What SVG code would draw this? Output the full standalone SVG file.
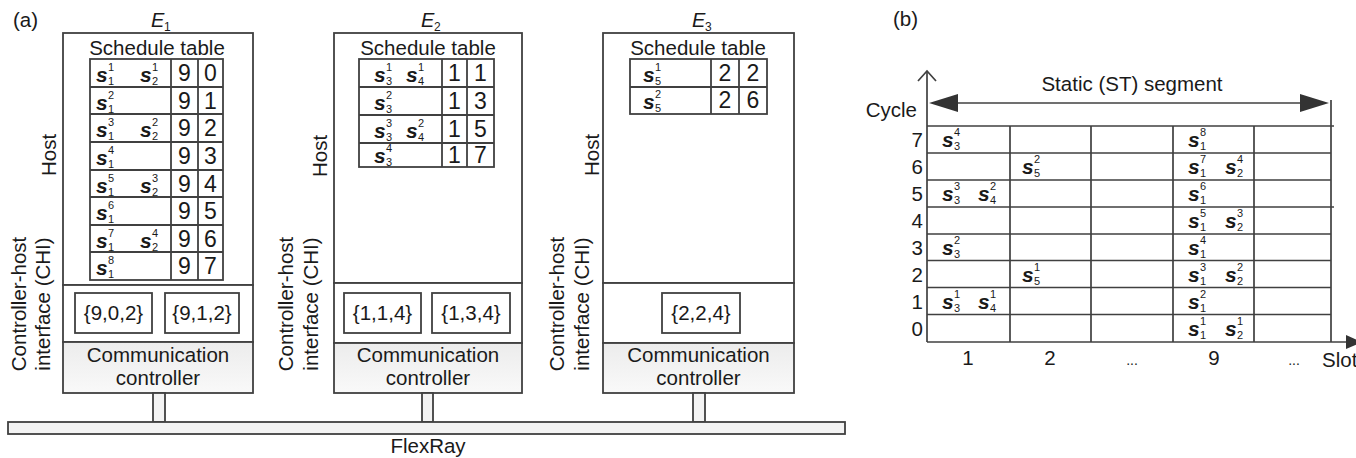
<svg xmlns="http://www.w3.org/2000/svg" width="1356" height="458" viewBox="0 0 1356 458">
<style>
text{font-family:"Liberation Sans",Arial,sans-serif;fill:#1a1a1a}
.t{font-size:20.5px}
.tm{font-size:20.5px;text-anchor:middle}
.d{font-size:23px;text-anchor:middle}
.s{font-size:21px;font-style:italic;font-weight:bold}
.i{font-size:11px}
.ln{fill:none;stroke:#404040;stroke-width:1.8}
.box{fill:#fff;stroke:#404040;stroke-width:1.8}
.cc{fill:url(#ccg);stroke:#404040;stroke-width:1.8}
.bar{fill:#f3f3f3;stroke:#404040;stroke-width:1.8}
.g{fill:none;stroke:#404040;stroke-width:1.7}
.E{font-size:20px;font-style:italic}
.Es{font-size:12px}
</style>
<defs>
<linearGradient id="ccg" x1="0" y1="0" x2="0" y2="1">
<stop offset="0" stop-color="#ececec"/>
<stop offset="1" stop-color="#f9f9f9"/>
</linearGradient>
</defs>
<rect width="1356" height="458" fill="#fff"/>

<text class="t" x="13" y="27">(a)</text>
<text class="t" x="893" y="26">(b)</text>

<!-- E1 -->
<g id="E1">
<text class="E" x="151" y="27">E</text><text class="Es" x="164" y="31">1</text>
<rect class="box" x="63" y="33" width="190" height="252"/>
<rect class="box" x="63" y="285" width="190" height="57"/>
<rect class="cc" x="63" y="342" width="190" height="51"/>
<text class="tm" x="157" y="55">Schedule table</text>
<rect class="ln" x="90" y="59" width="133" height="221"/>
<path class="ln" d="M171 59V280M198 59V280M90 87H223M90 114H223M90 142H223M90 170H223M90 197H223M90 225H223M90 252H223"/>
<g>
<text class="s" x="96" y="82">s</text><text class="i" x="108" y="71">1</text><text class="i" x="108" y="85">1</text>
<text class="s" x="140" y="82">s</text><text class="i" x="152" y="71">1</text><text class="i" x="152" y="85">2</text>
<text class="d" x="184.5" y="81">9</text><text class="d" x="210.5" y="81">0</text>
<text class="s" x="96" y="110">s</text><text class="i" x="108" y="99">2</text><text class="i" x="108" y="113">1</text>
<text class="d" x="184.5" y="109">9</text><text class="d" x="210.5" y="109">1</text>
<text class="s" x="96" y="137">s</text><text class="i" x="108" y="126">3</text><text class="i" x="108" y="140">1</text>
<text class="s" x="140" y="137">s</text><text class="i" x="152" y="126">2</text><text class="i" x="152" y="140">2</text>
<text class="d" x="184.5" y="136">9</text><text class="d" x="210.5" y="136">2</text>
<text class="s" x="96" y="165">s</text><text class="i" x="108" y="154">4</text><text class="i" x="108" y="168">1</text>
<text class="d" x="184.5" y="164">9</text><text class="d" x="210.5" y="164">3</text>
<text class="s" x="96" y="193">s</text><text class="i" x="108" y="182">5</text><text class="i" x="108" y="196">1</text>
<text class="s" x="140" y="193">s</text><text class="i" x="152" y="182">3</text><text class="i" x="152" y="196">2</text>
<text class="d" x="184.5" y="192">9</text><text class="d" x="210.5" y="192">4</text>
<text class="s" x="96" y="220">s</text><text class="i" x="108" y="209">6</text><text class="i" x="108" y="223">1</text>
<text class="d" x="184.5" y="219">9</text><text class="d" x="210.5" y="219">5</text>
<text class="s" x="96" y="248">s</text><text class="i" x="108" y="237">7</text><text class="i" x="108" y="251">1</text>
<text class="s" x="140" y="248">s</text><text class="i" x="152" y="237">4</text><text class="i" x="152" y="251">2</text>
<text class="d" x="184.5" y="247">9</text><text class="d" x="210.5" y="247">6</text>
<text class="s" x="96" y="275">s</text><text class="i" x="108" y="264">8</text><text class="i" x="108" y="278">1</text>
<text class="d" x="184.5" y="274">9</text><text class="d" x="210.5" y="274">7</text>
</g>
<rect class="box" x="75" y="293" width="77" height="40"/>
<rect class="box" x="165" y="293" width="74" height="40"/>
<text class="tm" x="113.5" y="320">{9,0,2}</text>
<text class="tm" x="202" y="320">{9,1,2}</text>
<text class="tm" x="158" y="362">Communication</text>
<text class="tm" x="158" y="385">controller</text>
<text class="tm" transform="translate(56 155) rotate(-90)">Host</text>
<text class="tm" transform="translate(26 304) rotate(-90)">Controller-host</text>
<text class="tm" transform="translate(50 304) rotate(-90)">interface (CHI)</text>
</g>

<!-- E2 -->
<g id="E2">
<text class="E" x="421" y="27">E</text><text class="Es" x="434" y="31">2</text>
<rect class="box" x="334" y="33" width="188" height="250"/>
<rect class="box" x="334" y="283" width="188" height="60"/>
<rect class="cc" x="334" y="343" width="188" height="50"/>
<text class="tm" x="428" y="55">Schedule table</text>
<rect class="ln" x="359" y="59" width="135" height="108"/>
<path class="ln" d="M442 59V167M467 59V167M359 87H494M359 115H494M359 143H494"/>
<g>
<text class="s" x="374" y="82">s</text><text class="i" x="386" y="71">1</text><text class="i" x="386" y="85">3</text>
<text class="s" x="406" y="82">s</text><text class="i" x="418" y="71">1</text><text class="i" x="418" y="85">4</text>
<text class="d" x="454.5" y="81">1</text><text class="d" x="480.5" y="81">1</text>
<text class="s" x="374" y="110">s</text><text class="i" x="386" y="99">2</text><text class="i" x="386" y="113">3</text>
<text class="d" x="454.5" y="109">1</text><text class="d" x="480.5" y="109">3</text>
<text class="s" x="374" y="138">s</text><text class="i" x="386" y="127">3</text><text class="i" x="386" y="141">3</text>
<text class="s" x="406" y="138">s</text><text class="i" x="418" y="127">2</text><text class="i" x="418" y="141">4</text>
<text class="d" x="454.5" y="137">1</text><text class="d" x="480.5" y="137">5</text>
<text class="s" x="374" y="163">s</text><text class="i" x="386" y="152">4</text><text class="i" x="386" y="166">3</text>
<text class="d" x="454.5" y="163">1</text><text class="d" x="480.5" y="163">7</text>
</g>
<rect class="box" x="344" y="293" width="77" height="40"/>
<rect class="box" x="432" y="293" width="78" height="40"/>
<text class="tm" x="382.5" y="320">{1,1,4}</text>
<text class="tm" x="471" y="320">{1,3,4}</text>
<text class="tm" x="428" y="362">Communication</text>
<text class="tm" x="428" y="385">controller</text>
<text class="tm" transform="translate(327 156) rotate(-90)">Host</text>
<text class="tm" transform="translate(293 304) rotate(-90)">Controller-host</text>
<text class="tm" transform="translate(318 304) rotate(-90)">interface (CHI)</text>
</g>

<!-- E3 -->
<g id="E3">
<text class="E" x="692" y="27">E</text><text class="Es" x="705" y="31">3</text>
<rect class="box" x="603" y="33" width="191" height="250"/>
<rect class="box" x="603" y="283" width="191" height="60"/>
<rect class="cc" x="603" y="343" width="191" height="50"/>
<text class="tm" x="698" y="55">Schedule table</text>
<rect class="ln" x="630" y="59" width="137" height="55"/>
<path class="ln" d="M711 59V114M739 59V114M630 87H767"/>
<g>
<text class="s" x="643" y="82">s</text><text class="i" x="655" y="71">1</text><text class="i" x="655" y="85">5</text>
<text class="d" x="725" y="81">2</text><text class="d" x="753" y="81">2</text>
<text class="s" x="643" y="109">s</text><text class="i" x="655" y="98">2</text><text class="i" x="655" y="112">5</text>
<text class="d" x="725" y="108">2</text><text class="d" x="753" y="108">6</text>
</g>
<rect class="box" x="662" y="293" width="78" height="40"/>
<text class="tm" x="701" y="320">{2,2,4}</text>
<text class="tm" x="698.5" y="362">Communication</text>
<text class="tm" x="698.5" y="385">controller</text>
<text class="tm" transform="translate(599 155) rotate(-90)">Host</text>
<text class="tm" transform="translate(564 304) rotate(-90)">Controller-host</text>
<text class="tm" transform="translate(589 304) rotate(-90)">interface (CHI)</text>
</g>

<!-- connectors -->
<g id="connectors">
<rect class="bar" x="153" y="393" width="12" height="29"/>
<rect class="bar" x="422" y="393" width="11" height="29"/>
<rect class="bar" x="693" y="393" width="12" height="29"/>
</g>

<g id="FlexRay">
<rect class="bar" x="8" y="422" width="837" height="12"/>
<text class="tm" x="428" y="453">FlexRay</text>
</g>

<!-- (b) -->
<g id="chart-b">
<path class="g" d="M927 342V71"/>
<polyline class="g" points="918,81 927,71 936,81"/>
<path class="g" d="M927 342H1348"/>
<polygon points="1346,335 1362,342 1346,349" fill="#333"/>
<path class="g" d="M950 103H1308"/>
<polygon points="929,103 958,94 958,112" fill="#333"/>
<polygon points="1329,103 1300,94 1300,112" fill="#333"/>
<path class="g" d="M1331 100V342"/>
<path class="g" d="M927 126H1334M927 153H1331M927 180H1331M927 207H1334M927 234H1331M927 260.5H1331M927 287.5H1331M927 314.5H1331"/>
<path class="g" d="M1010 126V342M1091 126V342M1173 126V342M1254 126V342"/>
<text class="tm" x="1132" y="91">Static (ST) segment</text>
<text class="t" x="917" y="117" text-anchor="end">Cycle</text>
<g text-anchor="end">
<text class="t" x="923" y="147" text-anchor="end">7</text>
<text class="t" x="923" y="174" text-anchor="end">6</text>
<text class="t" x="923" y="201" text-anchor="end">5</text>
<text class="t" x="923" y="228" text-anchor="end">4</text>
<text class="t" x="923" y="255" text-anchor="end">3</text>
<text class="t" x="923" y="281.5" text-anchor="end">2</text>
<text class="t" x="923" y="308.5" text-anchor="end">1</text>
<text class="t" x="923" y="335.5" text-anchor="end">0</text>
</g>
<text class="tm" x="968" y="365">1</text>
<text class="tm" x="1050" y="365">2</text>
<text class="tm" x="1132" y="365" style="font-size:14px">...</text>
<text class="tm" x="1214" y="365">9</text>
<text class="tm" x="1294" y="365" style="font-size:14px">...</text>
<text class="t" x="1322" y="367">Slot</text>
<g>
<!-- row 7 -->
<text class="s" x="942" y="147">s</text><text class="i" x="954" y="136">4</text><text class="i" x="954" y="150">3</text>
<text class="s" x="1188" y="147">s</text><text class="i" x="1200" y="136">8</text><text class="i" x="1200" y="150">1</text>
<!-- row 6 -->
<text class="s" x="1022" y="174">s</text><text class="i" x="1034" y="163">2</text><text class="i" x="1034" y="177">5</text>
<text class="s" x="1188" y="174">s</text><text class="i" x="1200" y="163">7</text><text class="i" x="1200" y="177">1</text>
<text class="s" x="1225" y="174">s</text><text class="i" x="1237" y="163">4</text><text class="i" x="1237" y="177">2</text>
<!-- row 5 -->
<text class="s" x="942" y="201">s</text><text class="i" x="954" y="190">3</text><text class="i" x="954" y="204">3</text>
<text class="s" x="978" y="201">s</text><text class="i" x="990" y="190">2</text><text class="i" x="990" y="204">4</text>
<text class="s" x="1188" y="201">s</text><text class="i" x="1200" y="190">6</text><text class="i" x="1200" y="204">1</text>
<!-- row 4 -->
<text class="s" x="1188" y="228">s</text><text class="i" x="1200" y="217">5</text><text class="i" x="1200" y="231">1</text>
<text class="s" x="1225" y="228">s</text><text class="i" x="1237" y="217">3</text><text class="i" x="1237" y="231">2</text>
<!-- row 3 -->
<text class="s" x="942" y="255">s</text><text class="i" x="954" y="244">2</text><text class="i" x="954" y="258">3</text>
<text class="s" x="1188" y="255">s</text><text class="i" x="1200" y="244">4</text><text class="i" x="1200" y="258">1</text>
<!-- row 2 -->
<text class="s" x="1022" y="281.5">s</text><text class="i" x="1034" y="270.5">1</text><text class="i" x="1034" y="284.5">5</text>
<text class="s" x="1188" y="281.5">s</text><text class="i" x="1200" y="270.5">3</text><text class="i" x="1200" y="284.5">1</text>
<text class="s" x="1225" y="281.5">s</text><text class="i" x="1237" y="270.5">2</text><text class="i" x="1237" y="284.5">2</text>
<!-- row 1 -->
<text class="s" x="942" y="308.5">s</text><text class="i" x="954" y="297.5">1</text><text class="i" x="954" y="311.5">3</text>
<text class="s" x="978" y="308.5">s</text><text class="i" x="990" y="297.5">1</text><text class="i" x="990" y="311.5">4</text>
<text class="s" x="1188" y="308.5">s</text><text class="i" x="1200" y="297.5">2</text><text class="i" x="1200" y="311.5">1</text>
<!-- row 0 -->
<text class="s" x="1188" y="335.5">s</text><text class="i" x="1200" y="324.5">1</text><text class="i" x="1200" y="338.5">1</text>
<text class="s" x="1225" y="335.5">s</text><text class="i" x="1237" y="324.5">1</text><text class="i" x="1237" y="338.5">2</text>
</g>
</g>
</svg>
